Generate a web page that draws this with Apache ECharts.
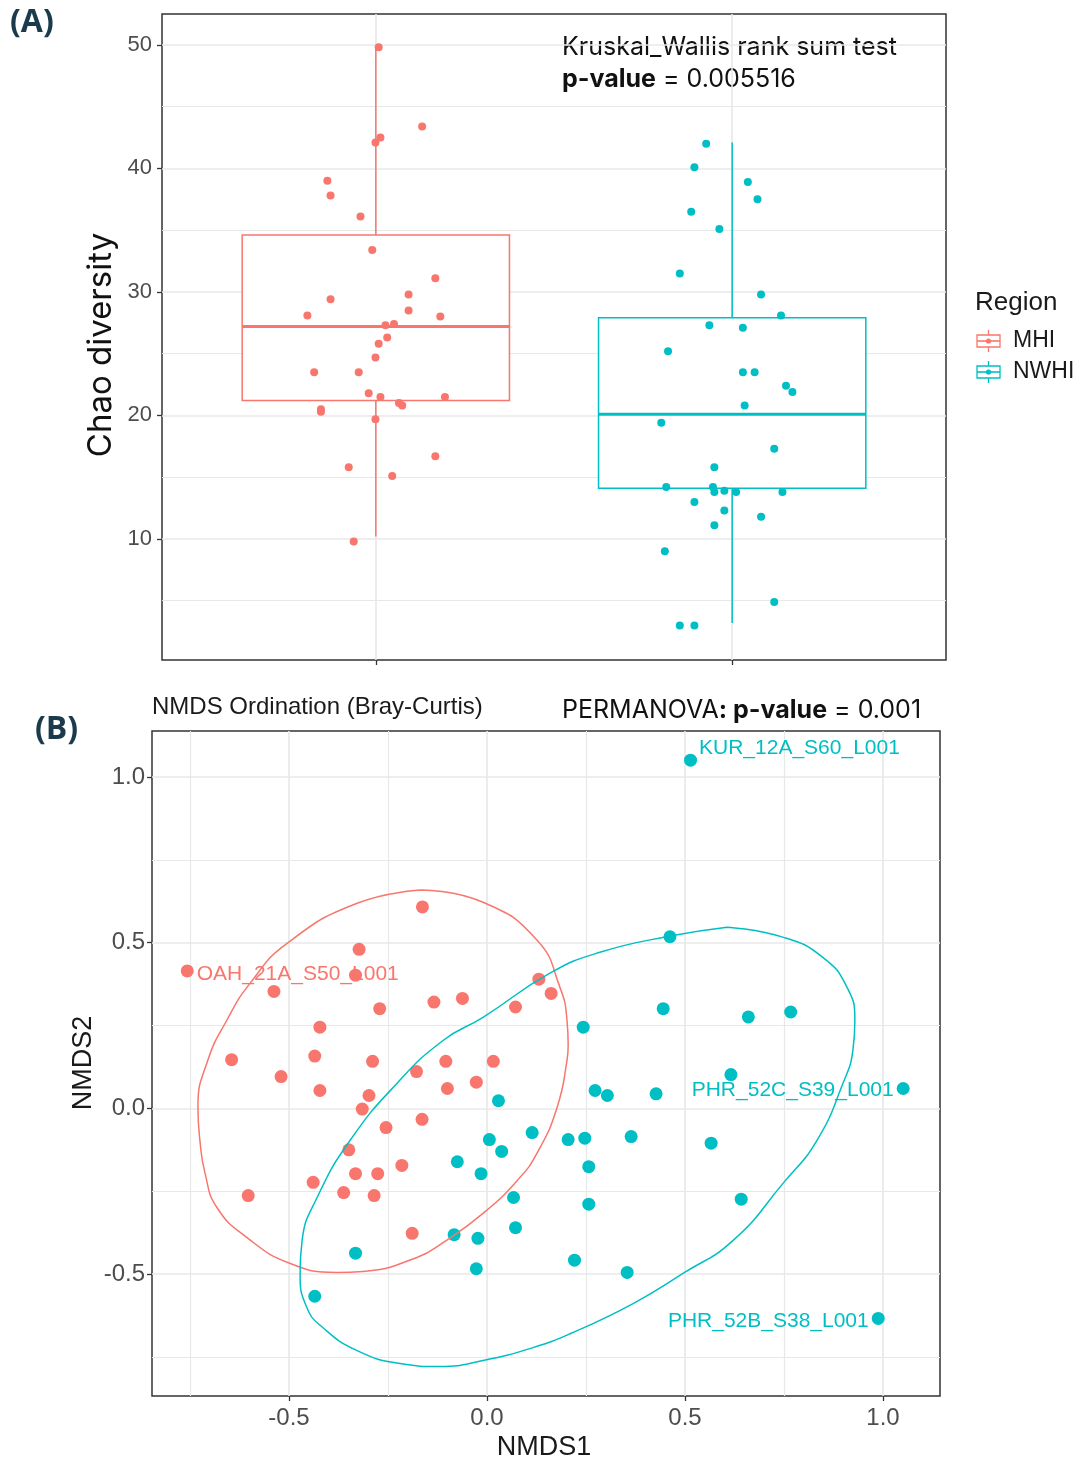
<!DOCTYPE html>
<html>
<head>
<meta charset="utf-8">
<script src="https://cdn.jsdelivr.net/npm/echarts@6/dist/echarts.min.js"></script>
<style>
html, body { margin: 0; padding: 0; background: #fff; }
#main { width: 1081px; height: 1464px; }
</style>
</head>
<body>
<div id="main"></div>
<script>
var groups = ['MHI', 'NWHI'];
var groupColors = ['#F8766D', '#00BFC4'];

// (A) Chao diversity per sample, jitter = horizontal offset from group centre
var mhiChao = [49.8, 43.4, 42.5, 42.1, 39.0, 37.8, 36.1, 33.4, 31.1, 29.8, 29.4, 28.5, 28.1, 28.0, 27.4, 27.3, 26.3,
    25.8, 24.7, 23.5, 23.5, 21.8, 21.5, 21.5, 21.0, 20.8, 20.5, 20.3, 19.7, 16.7, 15.8, 15.1, 9.8];
var mhiJitter = [0.008, 0.130, 0.013, -0.001, -0.136, -0.127, -0.043, -0.010, 0.167, 0.092, -0.127, 0.092, -0.192, 0.181, 0.051, 0.027, 0.032,
    0.008, -0.001, -0.173, -0.048, -0.020, 0.013, 0.194, 0.065, 0.074, -0.154, -0.154, -0.001, 0.167, -0.076, 0.046, -0.062];
var nwhiChao = [42.0, 40.1, 38.9, 37.5, 36.5, 35.1, 31.5, 29.8, 28.1, 27.3, 27.1, 25.2, 23.5, 23.5, 22.4, 21.9, 20.8,
    19.4, 17.3, 15.8, 14.2, 14.2, 13.8, 13.9, 13.8, 13.8, 13.0, 12.3, 11.8, 11.1, 9.0, 4.9, 3.0, 3.0];
var nwhiJitter = [-0.073, -0.106, 0.044, 0.071, -0.115, -0.036, -0.147, 0.081, 0.137, -0.064, 0.030, -0.180, 0.030, 0.063, 0.151, 0.169, 0.035,
    -0.199, 0.118, -0.050, -0.185, -0.054, -0.050, -0.022, 0.011, 0.141, -0.106, -0.022, 0.081, -0.050, -0.189, 0.118, -0.147, -0.106];
// whisker low, Q1, median, Q3, whisker high
var mhiBox = [10.2, 21.2, 27.2, 34.6, 50.0];
var nwhiBox = [3.2, 14.1, 20.1, 27.9, 42.1];
var chaoTicks = [10, 20, 30, 40, 50];
var chaoMinor = [5, 15, 25, 35, 45];

// (B) NMDS scores
var mhiNmds1 = [-0.163, -0.323, -0.757, -0.332, -0.538, 0.131, 0.162, -0.134, -0.062, -0.271, 0.072, -0.422, -0.645, -0.435, -0.289, -0.104, 0.016, -0.520,
    -0.422, -0.178, -0.100, -0.027, -0.298, -0.315, -0.164, -0.255, -0.349, -0.215, -0.332, -0.276, -0.439, -0.603, -0.362, -0.285, -0.189];
var mhiNmds2 = [0.608, 0.480, 0.415, 0.402, 0.353, 0.390, 0.347, 0.321, 0.332, 0.301, 0.306, 0.245, 0.147, 0.158, 0.142, 0.142, 0.142, 0.096,
    0.054, 0.111, 0.060, 0.079, 0.039, -0.002, -0.033, -0.058, -0.125, -0.172, -0.197, -0.197, -0.223, -0.263, -0.254, -0.263, -0.377];
var nwhiNmds1 = [0.243, 0.273, 0.029, 0.006, 0.114, 0.037, -0.075, -0.015, 0.205, 0.247, 0.257, 0.067, 0.257, 0.072, -0.083, -0.023, -0.332,
    -0.027, 0.221, -0.435, 0.514, 0.462, 0.445, 0.660, 0.767, 0.616, 0.304, 0.427, 1.051, 0.364, 0.566, 0.642, 0.354, 0.988];
var nwhiNmds2 = [0.245, 0.054, 0.023, -0.094, -0.073, -0.130, -0.161, -0.197, -0.094, -0.090, -0.176, -0.269, -0.289, -0.360, -0.381, -0.392, -0.437,
    -0.484, -0.458, -0.567, 1.051, 0.518, 0.301, 0.276, 0.291, 0.102, 0.039, 0.044, 0.060, -0.085, -0.105, -0.274, -0.495, -0.634];
// labelled samples: [group, index in group, name]
var sampleLabels = [
    [0, 2, 'OAH_21A_S50_L001'],
    [1, 20, 'KUR_12A_S60_L001'],
    [1, 28, 'PHR_52C_S39_L001'],
    [1, 33, 'PHR_52B_S38_L001']
];
// 95% ellipse outlines
var mhiEllipse = [[-0.164, 0.659], [-0.010, 0.622], [0.126, 0.508], [0.184, 0.366], [0.202, 0.266], [0.205, 0.190], [0.202, 0.145],
    [0.177, 0.003], [0.126, -0.136], [0.076, -0.218], [-0.010, -0.317], [-0.111, -0.405], [-0.177, -0.450], [-0.313, -0.492],
    [-0.379, -0.495], [-0.497, -0.468], [-0.606, -0.390], [-0.682, -0.299], [-0.712, -0.196], [-0.725, -0.097], [-0.730, 0.004],
    [-0.705, 0.145], [-0.657, 0.266], [-0.598, 0.378], [-0.505, 0.498], [-0.328, 0.619], [-0.164, 0.659]];
var nwhiEllipse = [[0.606, 0.547], [0.747, 0.517], [0.848, 0.456], [0.909, 0.366], [0.929, 0.266], [0.924, 0.175], [0.899, 0.076],
    [0.833, -0.097], [0.747, -0.227], [0.621, -0.399], [0.495, -0.498], [0.369, -0.589], [0.210, -0.680], [0.116, -0.722],
    [-0.010, -0.761], [-0.119, -0.779], [-0.220, -0.770], [-0.328, -0.731], [-0.414, -0.662], [-0.455, -0.601], [-0.472, -0.498],
    [-0.467, -0.399], [-0.429, -0.269], [-0.346, -0.097], [-0.227, 0.076], [-0.111, 0.205], [-0.010, 0.275], [0.159, 0.408],
    [0.285, 0.471], [0.462, 0.520], [0.606, 0.547]];
var nmdsTicks = [-0.5, 0, 0.5, 1.0];
var nmdsMinor = [-0.75, -0.25, 0.25, 0.75];

var gridColor = '#E8E8E8';
var tickFont = 'Liberation Sans, Arial, sans-serif';
var boxWidth = 0.75;

function mainAxis(gridIndex, min, max, ticks, showLabels, fontSize, margin) {
    return {
        type: 'value', gridIndex: gridIndex, min: min, max: max,
        axisLine: { show: false, onZero: false },
        axisTick: { show: true, length: 5, customValues: ticks, lineStyle: { color: '#333', width: 1.3 } },
        axisLabel: {
            show: showLabels, customValues: ticks, color: '#4D4D4D', fontSize: fontSize, fontFamily: tickFont, margin: margin,
            formatter: function (v) { return gridIndex == 1 ? v.toFixed(1) : String(v); }
        },
        splitLine: { show: true, lineStyle: { color: gridColor, width: 1.6 } }
    };
}
function minorAxis(gridIndex, min, max, ticks) {
    return {
        type: 'value', gridIndex: gridIndex, min: min, max: max,
        axisLine: { show: false, onZero: false },
        axisTick: { show: false, customValues: ticks },
        axisLabel: { show: false, customValues: ticks },
        splitLine: { show: true, lineStyle: { color: gridColor, width: 1.2 } }
    };
}

function jitterData(jitter, values, centre) {
    var out = [];
    for (var i = 0; i < values.length; i++) {
        out.push([centre + jitter[i], values[i]]);
    }
    return out;
}
function zipData(xs, ys) {
    var out = [];
    for (var i = 0; i < xs.length; i++) {
        out.push([xs[i], ys[i]]);
    }
    return out;
}

function renderBox(params, api) {
    var x = api.value(0);
    var lo = api.coord([x, api.value(1)]);
    var q1 = api.coord([x, api.value(2)]);
    var med = api.coord([x, api.value(3)]);
    var q3 = api.coord([x, api.value(4)]);
    var hi = api.coord([x, api.value(5)]);
    var half = api.size([boxWidth, 0])[0] / 2;
    var color = groupColors[params.dataIndex];
    var line = { stroke: color, lineWidth: 1.5 };
    return {
        type: 'group',
        children: [
            { type: 'line', shape: { x1: hi[0], y1: hi[1], x2: q3[0], y2: q3[1] }, style: line },
            { type: 'line', shape: { x1: q1[0], y1: q1[1], x2: lo[0], y2: lo[1] }, style: line },
            { type: 'rect', shape: { x: q3[0] - half, y: q3[1], width: half * 2, height: q1[1] - q3[1] },
              style: { stroke: color, lineWidth: 1.5, fill: '#fff' } },
            { type: 'line', shape: { x1: med[0] - half, y1: med[1], x2: med[0] + half, y2: med[1] },
              style: { stroke: color, lineWidth: 3 } }
        ]
    };
}

var labelStyle = {
    'OAH_21A_S50_L001': { position: 'right', distance: 3, offset: [0, 3] },
    'KUR_12A_S60_L001': { position: 'right', distance: 2, offset: [0, -12] },
    'PHR_52C_S39_L001': { position: 'left', distance: 3, offset: [0, 2] },
    'PHR_52B_S38_L001': { position: 'left', distance: 3, offset: [0, 3] }
};
function nmdsData(g, xs, ys) {
    var pts = zipData(xs, ys);
    var out = pts.map(function (p) { return { value: p }; });
    sampleLabels.forEach(function (s) {
        if (s[0] !== g) return;
        var st = labelStyle[s[2]];
        out[s[1]].label = {
            show: true, formatter: s[2], position: st.position, distance: st.distance, offset: st.offset,
            color: groupColors[g], fontSize: 21, fontFamily: tickFont
        };
    });
    return out;
}

// legend drawn as boxplot glyphs
var legendItems = [{ type: 'text', left: 975, top: 290, style: { text: 'Region', fontSize: 26, fontFamily: tickFont, fill: '#1a1a1a' } }];
groups.forEach(function (g, i) {
    var cy = 341 + i * 31;
    var c = groupColors[i];
    legendItems.push({
        type: 'group', x: 977, y: cy,
        children: [
            { type: 'line', shape: { x1: 11.5, y1: -11, x2: 11.5, y2: -6 }, style: { stroke: c, lineWidth: 1.3 } },
            { type: 'line', shape: { x1: 11.5, y1: 6, x2: 11.5, y2: 11 }, style: { stroke: c, lineWidth: 1.3 } },
            { type: 'rect', shape: { x: 0, y: -6, width: 23, height: 12 }, style: { stroke: c, lineWidth: 1.3, fill: '#fff' } },
            { type: 'line', shape: { x1: 0, y1: 0, x2: 23, y2: 0 }, style: { stroke: c, lineWidth: 1.6 } },
            { type: 'circle', shape: { cx: 11.5, cy: 0, r: 2.6 }, style: { fill: c } }
        ]
    });
    legendItems.push({ type: 'text', left: 1013, top: cy - 12, style: { text: g, fontSize: 23, fontFamily: tickFont, fill: '#1a1a1a' } });
});

var annotations = [
    { type: 'text', left: 10, top: 7, style: { text: '(A)', fontSize: 32, fontWeight: 'bold', fontFamily: 'Open Sans, sans-serif', fill: '#1B3A4B' } },
    { type: 'text', left: 35, top: 714, style: { text: '(B)', fontSize: 32, fontWeight: 'bold', fontFamily: 'Open Sans, sans-serif', fill: '#1B3A4B' } },
    { type: 'text', left: 562, top: 35, style: { text: 'Kruskal_Wallis rank sum test', fontSize: 25, fontFamily: 'Inter, sans-serif', fill: '#111' } },
    { type: 'text', left: 562, top: 67, style: {
        text: '{b|p-value} = 0.005516', fontSize: 25, fontFamily: 'Inter, sans-serif', fill: '#111',
        rich: { b: { fontWeight: 'bold', fontSize: 25, fontFamily: 'Inter, sans-serif', fill: '#111' } } } },
    { type: 'text', left: 562, top: 698, style: {
        text: 'PERMANOVA{b|: p-value} = 0.001', fontSize: 25, fontFamily: 'Inter, sans-serif', fill: '#111',
        rich: { b: { fontWeight: 'bold', fontSize: 25, fontFamily: 'Inter, sans-serif', fill: '#111' } } } },
    { type: 'text', left: 152, top: 695, style: { text: 'NMDS Ordination (Bray-Curtis)', fontSize: 24, fontFamily: tickFont, fill: '#1a1a1a' } },
    { type: 'text', x: 101, y: 345, rotation: Math.PI / 2, style: {
        text: 'Chao diversity', fontSize: 33, fontFamily: 'Inter, sans-serif', fill: '#111', align: 'center', verticalAlign: 'middle' } },
    { type: 'text', x: 84, y: 1063, rotation: Math.PI / 2, style: {
        text: 'NMDS2', fontSize: 27, fontFamily: tickFont, fill: '#1a1a1a', align: 'center', verticalAlign: 'middle' } },
    { type: 'text', x: 544, y: 1448, style: {
        text: 'NMDS1', fontSize: 27, fontFamily: tickFont, fill: '#1a1a1a', align: 'center', verticalAlign: 'middle' } }
];

var option = {
    animation: false,
    backgroundColor: '#fff',
    grid: [
        { left: 162, top: 14, width: 784, height: 646, show: true, borderColor: '#333', borderWidth: 1.5, backgroundColor: '#fff' },
        { left: 152, top: 731, width: 788, height: 665, show: true, borderColor: '#333', borderWidth: 1.5, backgroundColor: '#fff' }
    ],
    xAxis: [
        mainAxis(0, 0.4, 2.6, [1, 2], false, 20, 8),
        mainAxis(1, -0.846, 1.144, nmdsTicks, true, 24, 10),
        minorAxis(1, -0.846, 1.144, nmdsMinor)
    ],
    yAxis: [
        mainAxis(0, 0.2, 52.5, chaoTicks, true, 22, 10),
        minorAxis(0, 0.2, 52.5, chaoMinor),
        mainAxis(1, -0.868, 1.139, nmdsTicks, true, 24, 7),
        minorAxis(1, -0.868, 1.139, nmdsMinor)
    ],
    graphic: legendItems.concat(annotations),
    series: [
        {
            type: 'custom', name: 'box', xAxisIndex: 0, yAxisIndex: 0, z: 2,
            renderItem: renderBox,
            encode: { x: 0, y: [1, 2, 3, 4, 5] },
            data: [[1].concat(mhiBox), [2].concat(nwhiBox)]
        },
        {
            type: 'scatter', name: groups[0], xAxisIndex: 0, yAxisIndex: 0, z: 3,
            symbolSize: 8, itemStyle: { color: groupColors[0], opacity: 1 },
            data: jitterData(mhiJitter, mhiChao, 1)
        },
        {
            type: 'scatter', name: groups[1], xAxisIndex: 0, yAxisIndex: 0, z: 3,
            symbolSize: 8, itemStyle: { color: groupColors[1], opacity: 1 },
            data: jitterData(nwhiJitter, nwhiChao, 2)
        },
        {
            type: 'scatter', name: groups[0] + ' NMDS', xAxisIndex: 1, yAxisIndex: 2, z: 3,
            symbolSize: 13, itemStyle: { color: groupColors[0], opacity: 1 },
            data: nmdsData(0, mhiNmds1, mhiNmds2)
        },
        {
            type: 'scatter', name: groups[1] + ' NMDS', xAxisIndex: 1, yAxisIndex: 2, z: 3,
            symbolSize: 13, itemStyle: { color: groupColors[1], opacity: 1 },
            data: nmdsData(1, nwhiNmds1, nwhiNmds2)
        },
        {
            type: 'line', name: groups[0] + ' ellipse', xAxisIndex: 1, yAxisIndex: 2, z: 4,
            smooth: 0.5, symbol: 'none', lineStyle: { color: groupColors[0], width: 1.5 },
            data: mhiEllipse
        },
        {
            type: 'line', name: groups[1] + ' ellipse', xAxisIndex: 1, yAxisIndex: 2, z: 4,
            smooth: 0.5, symbol: 'none', lineStyle: { color: groupColors[1], width: 1.5 },
            data: nwhiEllipse
        }
    ]
};

var myChart = echarts.init(document.getElementById('main'));
myChart.setOption(option);
</script>
</body>
</html>
